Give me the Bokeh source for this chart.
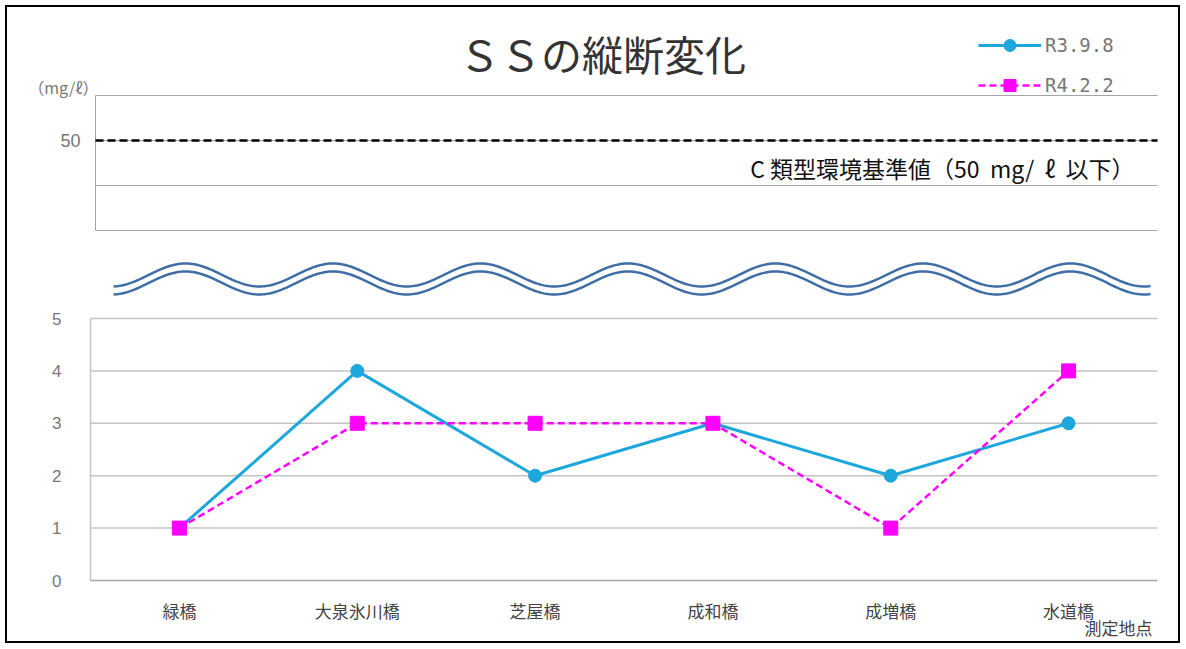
import numpy as np
from bokeh.plotting import figure
from bokeh.models import Range1d, LinearAxis, FixedTicker, Label, Legend, LegendItem
from bokeh.embed import file_html
from bokeh.resources import INLINE

# ---------------- data ----------------
CATEGORIES = ["緑橋", "大泉氷川橋", "芝屋橋", "成和橋", "成増橋", "水道橋"]
SERIES_NAMES = ["R3.9.8", "R4.2.2"]
R3_9_8 = [1, 4, 2, 3, 2, 3]
R4_2_2 = [1, 3, 3, 3, 1, 4]
LOWER_TICKS = [0, 1, 2, 3, 4, 5]
UPPER_GRID = [30, 40, 50, 60]
UPPER_TICKS = [50]
STANDARD = 50
TITLE = "ＳＳの縦断変化"
UNIT = "（mg/ℓ）"
STANDARD_TEXT = "C\u00a0類型環境基準値（50\u00a0\u00a0mg/\u00a0\u00a0ℓ\u00a0\u00a0以下）"
X_TITLE = "測定地点"

# category slots on a numeric axis (slot i is centred on i + 0.5)
X_POS = [i + 0.5 for i in range(len(CATEGORIES))]
NCAT = len(CATEGORIES)

# ---------------- layout (page pixels) ----------------
OX, OY = 7, 7              # canvas origin on the page (5px margin + 2px border)
W, H = 1175, 638
CL, CR, CT, CB = OX, OX + W, OY, OY + H   # canvas = frame edges
PL, PR, PB = 90, 1157, 580   # lower plot area left / right / bottom (value 0)
Y5 = 318                     # pixel of value 5 in lower panel
UP_TOP, UP_BOT = 95, 230     # pixels of upper panel top / bottom grid
UP_LEFT = 95

ppx = (PR - PL) / NCAT
ppu = (PB - Y5) / (LOWER_TICKS[-1] - LOWER_TICKS[0])
x_rng = Range1d(-(PL - CL) / ppx, NCAT + (CR - PR) / ppx)
y_rng = Range1d(-(CB - PB) / ppu, (PB - CT) / ppu)
up_ppu = (UP_BOT - UP_TOP) / (max(UPPER_GRID) - min(UPPER_GRID))
up_rng = Range1d(max(UPPER_GRID) - (CB - UP_TOP) / up_ppu,
                 max(UPPER_GRID) + (UP_TOP - CT) / up_ppu)

FONT_JP = "Noto Sans CJK JP"

p = figure(width=W, height=H, x_range=x_rng, y_range=y_rng,
           output_backend="svg", toolbar_location=None,
           x_axis_location=None, y_axis_location=None,
           min_border_left=0, min_border_right=0, min_border_top=0, min_border_bottom=0,
           outline_line_color=None, background_fill_color="white",
           border_fill_color="white")
p.styles = {"border": "2px solid #000000", "margin": "5px 0px 0px 5px"}
p.extra_x_ranges = {"px": Range1d(CL, CR)}
p.extra_y_ranges = {"px": Range1d(CB, CT), "upper": up_rng}
p.xgrid.visible = False
p.ygrid.visible = False

# ---------------- axes (fixed inside the frame) ----------------
up_axis = LinearAxis(y_range_name="upper", ticker=FixedTicker(ticks=UPPER_TICKS),
                     fixed_location=0, bounds=(min(UPPER_GRID), max(UPPER_GRID)),
                     axis_line_color=None, major_tick_line_color=None,
                     major_tick_out=0, major_tick_in=0,
                     minor_tick_line_color=None, major_label_standoff=10,
                     major_label_text_font_size="18px", major_label_text_color="#777777",
                     major_label_text_font="Liberation Sans")
p.add_layout(up_axis, "left")
low_axis = LinearAxis(ticker=FixedTicker(ticks=LOWER_TICKS), fixed_location=0,
                      bounds=(LOWER_TICKS[0], LOWER_TICKS[-1]),
                      axis_line_color=None, major_tick_line_color=None,
                      major_tick_out=0, major_tick_in=0,
                      minor_tick_line_color=None, major_label_standoff=29,
                      major_label_text_font_size="17px", major_label_text_color="#777777",
                      major_label_text_font="Liberation Sans")
p.add_layout(low_axis, "left")
x_axis = LinearAxis(ticker=FixedTicker(ticks=X_POS), fixed_location=0, bounds=(0, NCAT),
                    major_label_overrides={x: c for x, c in zip(X_POS, CATEGORIES)},
                    axis_line_color="#a6a6a6", axis_line_width=1.5,
                    major_tick_line_color=None, major_tick_out=0, major_tick_in=0,
                    minor_tick_line_color=None, major_label_standoff=17,
                    major_label_text_font=FONT_JP, major_label_text_font_size="17px",
                    major_label_text_color="#444444")
p.add_layout(x_axis, "below")

# ---------------- lower panel grid ----------------
p.segment(x0=[0] * 5, x1=[NCAT] * 5, y0=LOWER_TICKS[1:], y1=LOWER_TICKS[1:],
          line_color="#c4c4c4", line_width=1.5)
p.segment(x0=[0], x1=[0], y0=[LOWER_TICKS[0]], y1=[LOWER_TICKS[-1]],
          line_color="#c4c4c4", line_width=1.5)

# ---------------- upper panel ----------------
p.segment(x0=[UP_LEFT] * len(UPPER_GRID), x1=[PR] * len(UPPER_GRID),
          y0=UPPER_GRID, y1=UPPER_GRID, x_range_name="px", y_range_name="upper",
          line_color="#a4a4a4", line_width=1)
p.segment(x0=[UP_LEFT], x1=[UP_LEFT], y0=[min(UPPER_GRID)], y1=[max(UPPER_GRID)],
          x_range_name="px", y_range_name="upper", line_color="#a4a4a4", line_width=1)
p.segment(x0=[UP_LEFT], x1=[PR], y0=[STANDARD], y1=[STANDARD],
          x_range_name="px", y_range_name="upper", line_color="#000000",
          line_width=2.5, line_dash="8 4")

# ---------------- wave (decoration) ----------------
wx = np.linspace(113, 1150, 500)
wy = 274.5 - 11.5 * np.cos(2 * np.pi * (wx - 185) / 147.5)
for off in (0, 8):
    p.line(wx, wy + off, x_range_name="px", y_range_name="px",
           line_color="#3F6EA6", line_width=2.5)

# ---------------- series ----------------
BLUE = "#1EA7DC"
MAG = "#FF00FF"
l1 = p.line(X_POS, R3_9_8, line_color=BLUE, line_width=3)
s1 = p.scatter(X_POS, R3_9_8, marker="circle", size=13, fill_color=BLUE, line_color=BLUE)
l2 = p.line(X_POS, R4_2_2, line_color=MAG, line_width=2.5, line_dash="7 4")
s2 = p.scatter(X_POS, R4_2_2, marker="square", size=14, fill_color=MAG, line_color=MAG)

legend = Legend(items=[LegendItem(label=SERIES_NAMES[0], renderers=[l1, s1]),
                       LegendItem(label=SERIES_NAMES[1], renderers=[l2, s2])],
                location=(978 - CL, CB - 100), orientation="vertical",
                glyph_width=63, glyph_height=30, spacing=10, padding=2,
                label_standoff=4, label_text_font="DejaVu Sans Mono",
                label_text_font_size="19px", label_text_color="#777777",
                background_fill_alpha=0, border_line_color=None, margin=0)
p.add_layout(legend)

# ---------------- texts ----------------
p.add_layout(Label(x=602, y=52, text=TITLE, x_range_name="px", y_range_name="px",
                   text_align="center", text_baseline="middle", text_font=FONT_JP,
                   text_font_size="41px", text_color="#333333"))
p.add_layout(Label(x=98, y=86, text=UNIT, x_range_name="px", y_range_name="px",
                   text_align="right", text_baseline="middle", text_font=FONT_JP,
                   text_font_size="16px", text_color="#777777"))
p.add_layout(Label(x=1134, y=167, text=STANDARD_TEXT, x_range_name="px", y_range_name="px",
                   text_align="right", text_baseline="middle", text_font=FONT_JP,
                   text_font_size="23px", text_color="#111111",
                   background_fill_color="white"))
p.add_layout(Label(x=1152, y=627, text=X_TITLE, x_range_name="px", y_range_name="px",
                   text_align="right", text_baseline="middle", text_font=FONT_JP,
                   text_font_size="17px", text_color="#444444"))

open("out.html", "w").write(file_html(p, INLINE))
